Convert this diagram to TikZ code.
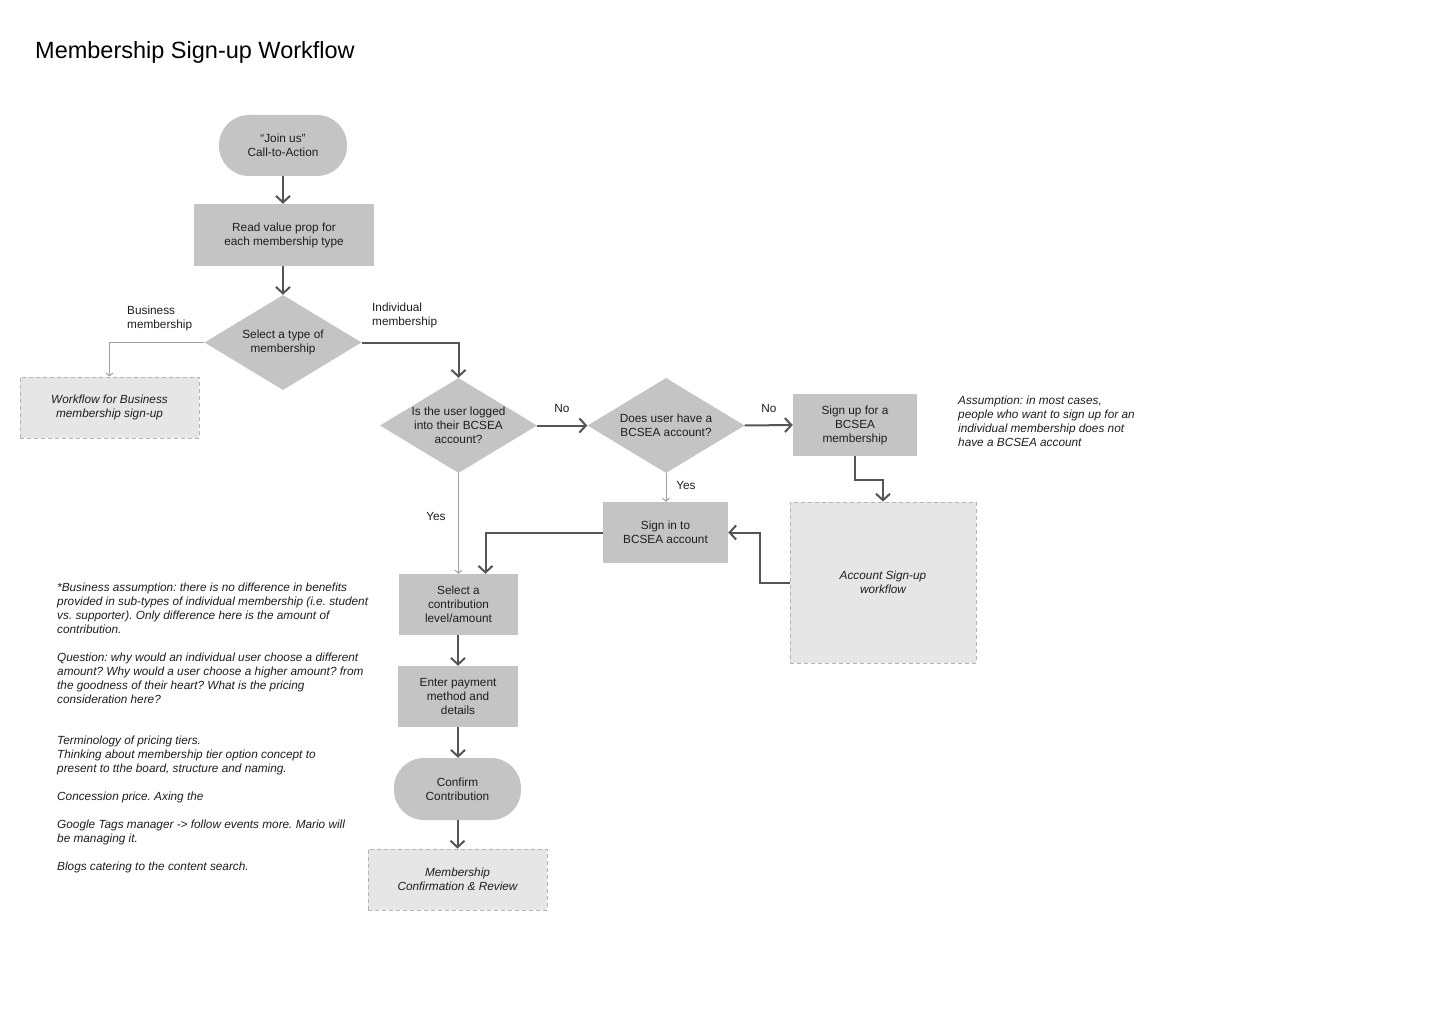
\documentclass[tikz,border=0pt]{standalone}
\usepackage{fontspec}
\setmainfont{Liberation Sans}
\usetikzlibrary{arrows.meta,shapes.geometric}

\definecolor{boxgray}{HTML}{C4C4C4}
\definecolor{dashfill}{HTML}{E6E6E6}
\definecolor{dashline}{HTML}{B4B4B4}
\definecolor{flowline}{HTML}{555555}
\definecolor{thinline}{HTML}{A0A0A0}
\definecolor{ink}{HTML}{1E1E1E}

\frenchspacing
\begin{document}
\begin{tikzpicture}[x=1pt,y=-1pt,
  every node/.style={font=\fontsize{11.8}{14}\selectfont, text=ink},
  process/.style={rectangle, fill=boxgray, align=center, inner sep=2pt},
  terminal/.style={process, rounded corners=30pt},
  decision/.style={diamond, fill=boxgray, inner sep=0pt,
    minimum width=157pt, minimum height=95pt,
    label={[align=center]center:#1}},
  subflow/.style={rectangle, fill=dashfill, draw=dashline, line width=0.8pt,
    dash pattern=on 4pt off 3pt, align=center,
    font=\fontsize{11.8}{14}\selectfont\itshape},
  flow/.style={draw=flowline, line width=2pt,
    -{Straight Barb[length=6.5pt,width=14pt]}},
  faint/.style={draw=thinline, line width=1pt,
    -{Straight Barb[length=3pt,width=7pt]}},
  tag/.style={align=left, anchor=north west, inner sep=0pt},
  note/.style={tag, font=\fontsize{11.8}{14}\selectfont\itshape}
]
\useasboundingbox[fill=white] (0,0) rectangle (1440,1024);

% heading
\node[anchor=west, inner sep=0pt, font=\fontsize{23.5}{28}\selectfont, text=black]
  (title) at (35,52) {Membership Sign-up Workflow};

% main flow
\node[terminal, minimum width=128pt, minimum height=61pt] (join) at (283,145.5)
  {``Join us''\\Call-to-Action};
\node[process, minimum width=180pt, minimum height=62pt] (read) at (284,235)
  {Read value prop for\\each membership type};
\node[decision={Select a type of\\membership}] (select) at (283,342.5) {};

\node[subflow, minimum width=179pt, minimum height=61pt] (business) at (109.5,407.5)
  {Workflow for Business\\membership sign-up};

\node[decision={Is the user logged\\into their BCSEA\\account?}] (logged) at (458.5,425.5) {};
\node[decision={Does user have a\\BCSEA account?}] (hasacct) at (666,425.5) {};
\node[process, minimum width=124pt, minimum height=62pt] (signup) at (855,425)
  {Sign up for a\\BCSEA\\membership};
\node[subflow, minimum width=186pt, minimum height=161pt] (acctflow) at (883,582.5)
  {Account Sign-up\\workflow};
\node[process, minimum width=125pt, minimum height=61pt] (signin) at (665.5,532.5)
  {Sign in to\\BCSEA account};

\node[process, minimum width=119pt, minimum height=61pt] (contrib) at (458.5,604.5)
  {Select a\\contribution\\level/amount};
\node[process, minimum width=120pt, minimum height=61pt] (payment) at (458,696.5)
  {Enter payment\\method and\\details};
\node[terminal, minimum width=127pt, minimum height=62pt] (confirm) at (457.5,789)
  {Confirm\\Contribution};
\node[subflow, minimum width=179pt, minimum height=61pt] (review) at (457.5,879.5)
  {Membership\\Confirmation \& Review};

% connectors
\draw[flow] (join.south) -- (join.south |- read.north);
\draw[flow] (read.south -| select.north) -- (select.north);
\draw[faint] (select.west) -| (business.north);
\draw[flow] (select.east) -| (logged.north);
\draw[flow] (logged.east) -- (hasacct.west);
\draw[flow] (hasacct.east) -- (signup.west);
\draw[faint] (hasacct.south) -- (hasacct.south |- signin.north);
\draw[faint] (logged.south) -- (logged.south |- contrib.north);
\draw[flow] (signin.west) -| ([xshift=27pt]contrib.north);
\draw[flow] (signup.south) -- ++(0,24) -| (acctflow.north);
\draw[flow] (acctflow.west) -- ++(-30,0) |- (signin.east);
\draw[flow] (contrib.south -| payment.north) -- (payment.north);
\draw[flow] (payment.south) -- (payment.south |- confirm.north);
\draw[flow] (confirm.south) -- (confirm.south |- review.north);

% branch labels
\node[tag] (lblbiz) at (127,306) {Business\\membership};
\node[tag] (lblind) at (372,303) {Individual\\membership};
\node (lblno1) at (562,408) {No};
\node (lblno2) at (769,408) {No};
\node (lblyes1) at (686,485) {Yes};
\node (lblyes2) at (436,516) {Yes};

% side notes
\node[note] (assume) at (958,396)
  {Assumption: in most cases,\\people who want to sign up for an\\individual membership does not\\have a BCSEA account};
\node[note] (notes) at (57,582.5)
  {*Business assumption: there is no difference in benefits\\
   provided in sub-types of individual membership (i.e. student\\
   vs. supporter). Only difference here is the amount of\\
   contribution.\\[14pt]
   Question: why would an individual user choose a different\\
   amount? Why would a user choose a higher amount? from\\
   the goodness of their heart? What is the pricing\\
   consideration here?\\[27pt]
   Terminology of pricing tiers.\\
   Thinking about membership tier option concept to\\
   present to tthe board, structure and naming.\\[14pt]
   Concession price. Axing the\\[14pt]
   Google Tags manager -> follow events more. Mario will\\
   be managing it.\\[14pt]
   Blogs catering to the content search.};
\end{tikzpicture}
\end{document}
